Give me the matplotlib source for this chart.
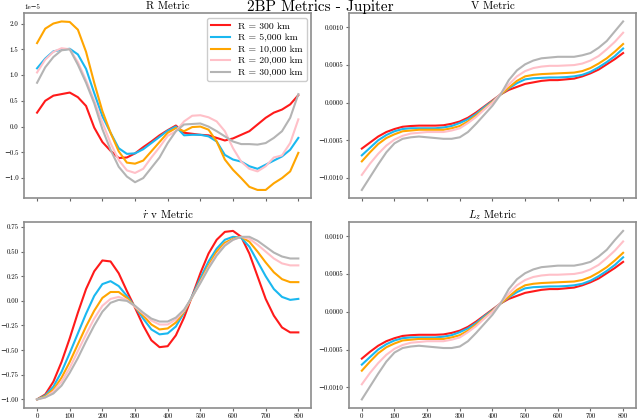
import numpy as np
import matplotlib
matplotlib.use("Agg")
import matplotlib.pyplot as plt

plt.rcParams['font.family'] = ['cmr10', 'DejaVu Serif']
plt.rcParams['mathtext.fontset'] = 'cm'
plt.rcParams['axes.formatter.use_mathtext'] = False

labels = ["R = 300 km", "R = 5,000 km", "R = 10,000 km", "R = 20,000 km", "R = 30,000 km"]
colors = ["#ff1a1a", "#1ab8f0", "#ffa500", "#ffc0c8", "#b4b4b4"]

t = np.arange(0, 801, 25)

# R metric (units of 1e-5)
r_300 = [0.27, 0.50, 0.60, 0.63, 0.66, 0.57, 0.40, -0.02, -0.30, -0.47, -0.61, -0.60, -0.52,
         -0.40, -0.29, -0.17, -0.07, 0.02, -0.12, -0.14, -0.16, -0.17, -0.22, -0.27, -0.23,
         -0.16, -0.09, 0.04, 0.17, 0.27, 0.33, 0.43, 0.61]
r_5k = [1.13, 1.32, 1.46, 1.49, 1.51, 1.40, 1.12, 0.65, 0.20, -0.12, -0.42, -0.53, -0.52,
        -0.44, -0.32, -0.20, -0.08, 0.00, -0.17, -0.16, -0.16, -0.19, -0.29, -0.55, -0.64,
        -0.68, -0.77, -0.82, -0.74, -0.66, -0.58, -0.45, -0.22]
r_10k = [1.62, 1.90, 2.00, 2.04, 2.03, 1.88, 1.45, 0.85, 0.30, -0.12, -0.48, -0.70, -0.72,
         -0.66, -0.48, -0.30, -0.12, -0.03, -0.09, -0.01, 0.00, -0.06, -0.29, -0.64, -0.84,
         -1.00, -1.17, -1.23, -1.23, -1.10, -1.00, -0.87, -0.51]
r_20k = [1.05, 1.30, 1.45, 1.52, 1.50, 1.25, 0.90, 0.50, 0.08, -0.32, -0.65, -0.85, -0.90,
         -0.82, -0.60, -0.40, -0.18, -0.09, 0.10, 0.21, 0.22, 0.18, 0.10, -0.09, -0.42,
         -0.68, -0.82, -0.87, -0.77, -0.60, -0.56, -0.32, 0.14]
r_30k = [0.85, 1.15, 1.35, 1.48, 1.50, 1.20, 0.85, 0.45, -0.05, -0.45, -0.78, -0.97, -1.08,
         -1.00, -0.80, -0.60, -0.32, -0.09, 0.04, 0.05, 0.06, 0.00, -0.09, -0.19, -0.29,
         -0.34, -0.34, -0.35, -0.32, -0.22, -0.09, 0.17, 0.63]

# V metric (units of 1e-3)
v_300 = [-0.61, -0.53, -0.45, -0.39, -0.35, -0.32, -0.31, -0.305, -0.305, -0.305, -0.30, -0.28,
         -0.25, -0.20, -0.13, -0.05, 0.03, 0.11, 0.17, 0.21, 0.25, 0.27, 0.29, 0.30, 0.30,
         0.31, 0.32, 0.35, 0.39, 0.44, 0.51, 0.58, 0.66]
v_5k = [-0.70, -0.60, -0.50, -0.43, -0.38, -0.35, -0.34, -0.34, -0.34, -0.34, -0.33, -0.31,
        -0.27, -0.22, -0.15, -0.06, 0.02, 0.11, 0.19, 0.26, 0.31, 0.325, 0.33, 0.335, 0.335,
        0.34, 0.35, 0.37, 0.41, 0.47, 0.54, 0.62, 0.72]
v_10k = [-0.78, -0.66, -0.55, -0.47, -0.42, -0.38, -0.37, -0.36, -0.36, -0.36, -0.36, -0.34,
         -0.31, -0.25, -0.17, -0.08, 0.01, 0.11, 0.20, 0.29, 0.35, 0.37, 0.38, 0.385, 0.39,
         0.395, 0.40, 0.42, 0.46, 0.52, 0.59, 0.68, 0.78]
v_20k = [-0.96, -0.81, -0.68, -0.57, -0.49, -0.44, -0.41, -0.40, -0.39, -0.39, -0.39, -0.37,
         -0.34, -0.27, -0.19, -0.09, 0.00, 0.12, 0.24, 0.35, 0.42, 0.46, 0.48, 0.49, 0.49,
         0.495, 0.50, 0.52, 0.56, 0.62, 0.71, 0.81, 0.93]
v_30k = [-1.16, -0.99, -0.82, -0.66, -0.54, -0.48, -0.46, -0.45, -0.46, -0.47, -0.48, -0.48,
         -0.46, -0.39, -0.28, -0.16, -0.04, 0.11, 0.30, 0.43, 0.51, 0.56, 0.59, 0.60, 0.61,
         0.61, 0.61, 0.63, 0.66, 0.73, 0.82, 0.95, 1.08]

# r-dot v metric
rv_300 = [-1.00, -0.95, -0.82, -0.62, -0.38, -0.12, 0.12, 0.30, 0.41, 0.40, 0.28, 0.10, -0.07,
          -0.25, -0.40, -0.47, -0.46, -0.35, -0.17, 0.05, 0.28, 0.48, 0.62, 0.70, 0.71, 0.65,
          0.48, 0.25, 0.02, -0.15, -0.27, -0.32, -0.32]
rv_5k = [-1.00, -0.96, -0.87, -0.72, -0.53, -0.33, -0.13, 0.05, 0.17, 0.20, 0.15, 0.05, -0.06,
         -0.18, -0.29, -0.34, -0.33, -0.26, -0.12, 0.05, 0.23, 0.40, 0.53, 0.62, 0.65, 0.64,
         0.55, 0.40, 0.25, 0.12, 0.04, 0.01, 0.02]
rv_10k = [-1.00, -0.97, -0.90, -0.78, -0.62, -0.44, -0.26, -0.10, 0.03, 0.09, 0.09, 0.03, -0.06,
          -0.15, -0.24, -0.29, -0.28, -0.22, -0.11, 0.04, 0.20, 0.36, 0.50, 0.59, 0.63, 0.65,
          0.60, 0.50, 0.39, 0.29, 0.22, 0.19, 0.19]
rv_20k = [-1.00, -0.98, -0.92, -0.82, -0.68, -0.51, -0.34, -0.18, -0.05, 0.02, 0.04, 0.01, -0.06,
          -0.13, -0.20, -0.24, -0.24, -0.19, -0.10, 0.04, 0.19, 0.34, 0.47, 0.57, 0.62, 0.65,
          0.63, 0.57, 0.50, 0.43, 0.38, 0.36, 0.36]
rv_30k = [-1.00, -0.98, -0.94, -0.86, -0.73, -0.58, -0.41, -0.25, -0.11, -0.02, 0.01, 0.00, -0.05,
          -0.12, -0.18, -0.21, -0.21, -0.17, -0.09, 0.04, 0.18, 0.33, 0.46, 0.56, 0.62, 0.65,
          0.65, 0.61, 0.55, 0.49, 0.45, 0.43, 0.43]

# L_z metric (units of 1e-3) - reads the same as V off the picture
lz_300 = [-0.62, -0.53, -0.45, -0.39, -0.35, -0.32, -0.31, -0.305, -0.305, -0.305, -0.30, -0.28,
          -0.25, -0.20, -0.13, -0.05, 0.03, 0.11, 0.17, 0.21, 0.25, 0.27, 0.29, 0.30, 0.30,
          0.31, 0.32, 0.35, 0.39, 0.44, 0.51, 0.58, 0.66]
lz_5k = [-0.70, -0.60, -0.50, -0.43, -0.38, -0.35, -0.34, -0.34, -0.34, -0.34, -0.33, -0.31,
         -0.27, -0.22, -0.15, -0.06, 0.02, 0.11, 0.19, 0.26, 0.31, 0.325, 0.33, 0.335, 0.335,
         0.34, 0.35, 0.37, 0.41, 0.47, 0.54, 0.62, 0.72]
lz_10k = [-0.78, -0.66, -0.55, -0.47, -0.42, -0.38, -0.37, -0.36, -0.36, -0.36, -0.36, -0.34,
          -0.31, -0.25, -0.17, -0.08, 0.01, 0.11, 0.20, 0.29, 0.35, 0.37, 0.38, 0.385, 0.39,
          0.395, 0.40, 0.42, 0.46, 0.52, 0.59, 0.68, 0.78]
lz_20k = [-0.96, -0.81, -0.68, -0.57, -0.49, -0.44, -0.41, -0.40, -0.39, -0.39, -0.39, -0.37,
          -0.34, -0.27, -0.19, -0.09, 0.00, 0.12, 0.24, 0.35, 0.42, 0.46, 0.48, 0.49, 0.49,
          0.495, 0.50, 0.52, 0.56, 0.62, 0.71, 0.81, 0.93]
lz_30k = [-1.16, -0.99, -0.82, -0.66, -0.54, -0.48, -0.46, -0.45, -0.46, -0.47, -0.48, -0.48,
          -0.46, -0.39, -0.28, -0.16, -0.04, 0.11, 0.30, 0.43, 0.51, 0.56, 0.59, 0.60, 0.61,
          0.61, 0.61, 0.63, 0.66, 0.73, 0.82, 0.95, 1.07]

fig, axs = plt.subplots(2, 2, sharex=True, figsize=(6.4, 4.2), dpi=100)
fig.subplots_adjust(left=0.0375, right=0.994, bottom=0.029, top=0.969, wspace=0.13, hspace=0.13)

panels = [
    (axs[0, 0], [np.array(s) * 1e-5 for s in (r_300, r_5k, r_10k, r_20k, r_30k)], "R Metric"),
    (axs[0, 1], [np.array(s) * 1e-3 for s in (v_300, v_5k, v_10k, v_20k, v_30k)], "V Metric"),
    (axs[1, 0], [rv_300, rv_5k, rv_10k, rv_20k, rv_30k], r"$\dot{r}$ v Metric"),
    (axs[1, 1], [np.array(s) * 1e-3 for s in (lz_300, lz_5k, lz_10k, lz_20k, lz_30k)], r"$L_z$ Metric"),
]

for ax, series, title in panels:
    for s, c, lab in zip(series, colors, labels):
        ax.plot(t, s, color=c, lw=1.5, label=lab)
    ax.set_title(title, fontsize=8, pad=3)
    ax.tick_params(labelsize=5, length=2.5, pad=1.5, color='0.4')
    ax.yaxis.get_offset_text().set_fontsize(5)
    for sp in ax.spines.values():
        sp.set_edgecolor('0.55')
        sp.set_linewidth(1.2)

axs[1, 0].set_xticks(np.arange(0, 801, 100))
axs[0, 0].legend(loc='upper right', fontsize=7, framealpha=1, borderpad=0.4, labelspacing=0.3)

fig.suptitle("2BP Metrics - Jupiter", fontsize=11, y=1.0)

fig.savefig("out.png", dpi=100)
